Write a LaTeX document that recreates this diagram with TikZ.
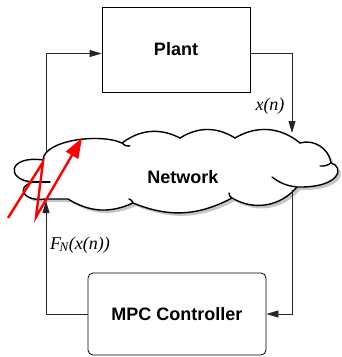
\documentclass[tikz,border=0pt]{standalone}
\usepackage{fontspec}
\setmainfont{Liberation Serif}
\setsansfont{Liberation Sans}
\usetikzlibrary{arrows.meta, calc}
\tikzset{
    block/.style={
        rectangle, draw=black, line width=0.8pt, fill=white,
        font=\fontsize{18}{21}\selectfont\sffamily\bfseries, align=center
    },
    signal/.style={font=\fontsize{18}{21}\selectfont\itshape, inner sep=0pt},
    wire/.style={line width=0.8pt, draw=black!85},
    arrow/.style={wire, -{Triangle[length=12pt, width=7pt]}},
    cloudline/.style={line width=1.4pt, draw=black, line cap=round},
    bolt/.style={line width=2.4pt, draw=red, -{Triangle[length=20pt, width=14pt]}}
}
% outline of the network cloud, in pixel units (y grows downwards)
\newcommand{\netpath}{(43,160) .. controls (44,140) and (100,133) .. (122,143)
    to[bend left=32] (180,138) to[bend left=32] (235,138)
    to[bend left=35] (300,143) to[bend left=50] (331,163)
    .. controls (344,166) and (342,188) .. (297,187)
    to[bend left=40] (232,198) to[bend left=25] (133,203)
    to[bend left=28] (68,199) -- (45,199)
    .. controls (25,202) and (14,188) .. (33,182)
    .. controls (5,180) and (8,155) .. (43,160) -- cycle}

\begin{document}
\begin{tikzpicture}[x=1pt, y=-1pt]
    \useasboundingbox (0,0) rectangle (342,357);

    \node[block, minimum width=148pt, minimum height=85pt] (plant) at (176,49.5) {Plant};
    \node[block, rounded corners=5pt, minimum width=178pt, minimum height=82pt] (mpc) at (177,314) {MPC Controller};

    % network cloud with its shadow
    \fill[gray!45, shift={(3,3)}] \netpath;
    \draw[cloudline, fill=white] \netpath;
    \draw[cloudline] (33,182) -- (50,182);
    \draw[cloudline] (122,143) to[bend right=30] (130,146);
    \draw[cloudline] (331,163) to[bend left=20] (320,166);
    \draw[cloudline] (297,187) to[bend left=15] (272,177);
    \draw[cloudline] (232,198) to[bend left=30] (229,193);
    \draw[cloudline] (133,203) to[bend right=30] (129,199);
    \node[font=\fontsize{18}{21}\selectfont\sffamily\bfseries] (net) at (183,177) {Network};

    \coordinate (netin) at (292,133);
    \coordinate (netdown) at (292,190);
    \coordinate (netup) at (46,201);
    \coordinate (netleft) at (46,153);

    \draw[arrow] ([yshift=-4pt]plant.east) -| (netin);
    \draw[arrow] (netdown) |- (mpc.east);
    \draw[arrow] (mpc.west) -| (netup);
    \draw[arrow] (netleft) |- ([yshift=-4pt]plant.west);

    \node[signal] (xn) at (270,106) {x(n)};
    \node[signal, anchor=west] (fn) at (50,245) {F\textsubscript{\kern-1.5pt\fontsize{13}{13}\selectfont N}(x(n))};

    \draw[bolt] (8,218) -- (43,162) -- (36,217) -- (82,138);
\end{tikzpicture}
\end{document}
